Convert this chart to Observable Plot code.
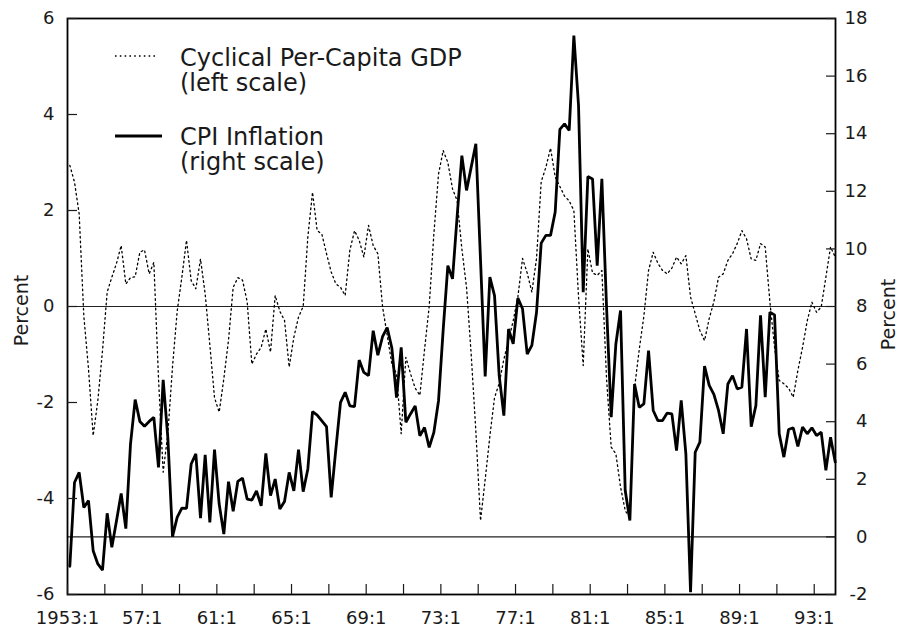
<!DOCTYPE html>
<html><head><meta charset="utf-8">
<script src="https://cdn.jsdelivr.net/npm/d3@7"></script>
<script src="https://cdn.jsdelivr.net/npm/@observablehq/plot@0.6"></script>
<style>
body{margin:0;background:#fff;}
#wrap{position:relative;width:899px;height:628px;}
#legend{position:absolute;left:0;top:0;pointer-events:none;}
</style></head><body>
<div id="wrap"></div>
<script>
const startYear = 1953; // first quarter 1953:1, quarterly observations
const gdp = [2.94,2.59,1.93,-0.2,-1.3,-2.69,-1.96,-0.92,0.3,0.61,0.9,1.27,0.47,0.6,0.62,1.13,1.18,0.68,0.92,-1.5,
  -3.45,-2.65,-1.26,-0.1,0.61,1.38,0.54,0.37,0.99,0.26,-0.8,-1.9,-2.2,-1.5,-0.7,0.4,0.6,0.55,0.1,-1.2,
  -0.99,-0.85,-0.47,-0.95,0.23,-0.1,-0.29,-1.26,-0.64,-0.22,0.0,1.45,2.38,1.58,1.51,1.1,0.72,0.47,0.4,0.23,
  1.17,1.58,1.38,1.03,1.69,1.27,1.1,0.0,-0.6,-1.2,-1.4,-2.65,-1.06,-1.4,-1.7,-1.85,-0.9,0.0,1.51,2.76,
  3.25,3.0,2.45,2.2,1.2,0.4,-1.0,-2.6,-4.46,-3.6,-2.7,-1.9,-1.6,-1.1,-0.7,-0.3,0.2,1.0,0.7,0.3,
  1.0,2.6,2.9,3.3,2.7,2.5,2.3,2.2,2.0,0.2,-1.23,1.2,0.7,0.65,0.75,-1.5,-2.93,-3.07,-3.76,-4.25,
  -4.4,-1.7,-0.9,-0.2,0.75,1.13,0.9,0.75,0.68,0.8,1.03,0.89,1.06,0.2,-0.15,-0.5,-0.71,-0.25,0.1,0.61,
  0.68,0.96,1.1,1.31,1.58,1.41,0.99,0.96,1.31,1.24,0.1,-0.85,-1.54,-1.61,-1.7,-1.89,-1.33,-0.85,-0.3,0.09,
  -0.12,-0.01,0.61,1.24,1.03];
const cpi = [-1.02,1.89,2.24,1.02,1.26,-0.48,-0.94,-1.15,0.82,-0.36,0.56,1.51,0.29,3.22,4.77,4.01,3.84,4.01,4.15,2.41,
  5.45,3.45,0.01,0.68,1.0,0.99,2.53,2.88,0.65,2.85,0.5,3.03,1.14,0.1,1.92,0.89,1.93,2.04,1.31,1.28,
  1.6,1.08,2.9,1.43,2.01,0.97,1.23,2.24,1.6,3.03,1.57,2.36,4.35,4.23,4.03,3.83,1.37,3.05,4.67,5.02,
  4.55,4.52,6.14,5.71,5.6,7.16,6.31,6.95,7.27,6.56,4.84,6.58,3.98,4.27,4.55,3.51,3.8,3.11,3.63,4.73,
  7.2,9.42,8.96,11.16,13.24,12.03,12.84,13.65,9.6,5.57,9.02,8.38,5.6,4.21,7.22,6.7,8.29,7.92,6.35,6.65,
  7.8,10.2,10.47,10.47,11.28,14.15,14.34,14.11,17.41,14.98,8.5,12.51,12.43,9.42,12.43,8.0,4.16,6.7,7.86,1.61,
  0.57,5.31,4.5,4.62,6.47,4.39,4.04,4.04,4.3,4.27,3.0,4.74,2.88,-1.92,2.94,3.29,5.93,5.26,4.95,4.39,
  3.58,5.31,5.6,5.14,5.2,7.22,3.83,4.56,7.69,4.85,7.8,7.71,3.58,2.77,3.73,3.79,3.14,3.81,3.58,3.79,
  3.52,3.64,2.31,3.46,2.6];
const leftTicks = [-6,-4,-2,0,2,4,6];
const rightTicks = [-2,0,2,4,6,8,10,12,14,16,18];
const xTickYears = [1953,1955,1957,1959,1961,1963,1965,1967,1969,1971,1973,1975,1977,1979,1981,1983,1985,1987,1989,1991,1993];
const xLabelYears = [1953,1957,1961,1965,1969,1973,1977,1981,1985,1989,1993];
const xLabels = ["1953:1","57:1","61:1","65:1","69:1","73:1","77:1","81:1","85:1","89:1","93:1"];
const axisTitle = "Percent";
const legendItems = [
  {lines: ["Cyclical Per-Capita GDP", "(left scale)"], dash: "1.6,3.2", width: 1.3},
  {lines: ["CPI Inflation", "(right scale)"], dash: null, width: 3.2}
];

// right scale (CPI) is mapped onto the left scale: right 8 = left 0, right 18 = left 6
const toLeft = v => (v - 8) * 0.6;
const fromLeft = v => Math.round(v / 0.6 + 8);
const data = gdp.map((g, i) => ({t: startYear + (i + 0.5) / 4, gdp: g, cpi: cpi[i]}));

const font = "'DejaVu Sans', sans-serif";
const blank = () => "";
const chart = Plot.plot({
  width: 899, height: 628,
  marginLeft: 67, marginRight: 64, marginTop: 18, marginBottom: 34,
  style: {fontFamily: font, fontSize: "18px", color: "#1a1a1a", background: "#fff", overflow: "visible"},
  x: {domain: [1953, 1994.14]},
  y: {domain: [-6, 6]},
  marks: [
    Plot.ruleY([0, toLeft(0)], {stroke: "#222", strokeWidth: 1.2}),
    Plot.line(data, {x: "t", y: "gdp", stroke: "#000", strokeWidth: 1.3, strokeDasharray: "1.6,3.2"}),
    Plot.line(data, {x: "t", y: d => toLeft(d.cpi), stroke: "#000", strokeWidth: 2.8, strokeLinejoin: "miter"}),
    Plot.frame({stroke: "#000", strokeWidth: 1.8}),
    // inward tick marks
    Plot.axisY({anchor: "left", ticks: leftTicks, tickSize: 10, dx: 10, tickFormat: blank, label: null, strokeWidth: 1.2}),
    Plot.axisY({anchor: "right", ticks: rightTicks.map(toLeft), tickSize: 10, dx: -10, tickFormat: blank, label: null, strokeWidth: 1.2}),
    Plot.axisX({anchor: "bottom", ticks: xTickYears, tickSize: 10, dy: -10, tickFormat: blank, label: null, strokeWidth: 1.2}),
    // tick labels
    Plot.axisY({anchor: "left", ticks: leftTicks, tickSize: 0, tickPadding: 13, tickFormat: d => String(d), label: null}),
    Plot.axisY({anchor: "right", ticks: rightTicks.map(toLeft), tickSize: 0, tickPadding: 32, textAnchor: "end", tickFormat: d => String(fromLeft(d)), label: null}),
    Plot.axisX({anchor: "bottom", ticks: xLabelYears, tickSize: 0, tickPadding: 17, label: null,
      tickFormat: d => xLabels[xLabelYears.indexOf(d)]}),
    Plot.text([axisTitle], {frameAnchor: "left", dx: -46, dy: 4, rotate: -90, textAnchor: "middle", fontSize: 19}),
    Plot.text([axisTitle], {frameAnchor: "right", dx: 53, dy: 8, rotate: -90, textAnchor: "middle", fontSize: 19})
  ]
});
document.getElementById("wrap").appendChild(chart);

// legend overlay (inside the plot frame, top-left)
const leg = d3.select("#wrap").append("svg").attr("id", "legend").attr("width", 899).attr("height", 628);
const legRows = [{lineY: 56, base: 66}, {lineY: 136, base: 145}];
legendItems.forEach((it, k) => {
  const r = legRows[k];
  leg.append("line").attr("x1", 115).attr("x2", k === 0 ? 158 : 162).attr("y1", r.lineY).attr("y2", r.lineY)
    .attr("stroke", "#000").attr("stroke-width", it.width).attr("stroke-dasharray", it.dash);
  const t = leg.append("text").attr("x", 180).attr("y", r.base).attr("font-family", font)
    .attr("font-size", 24).attr("fill", "#1a1a1a");
  it.lines.forEach((s, j) => {
    t.append("tspan").attr("x", 180).attr("dy", j === 0 ? 0 : 25).text(s);
  });
});
</script>
</body></html>
